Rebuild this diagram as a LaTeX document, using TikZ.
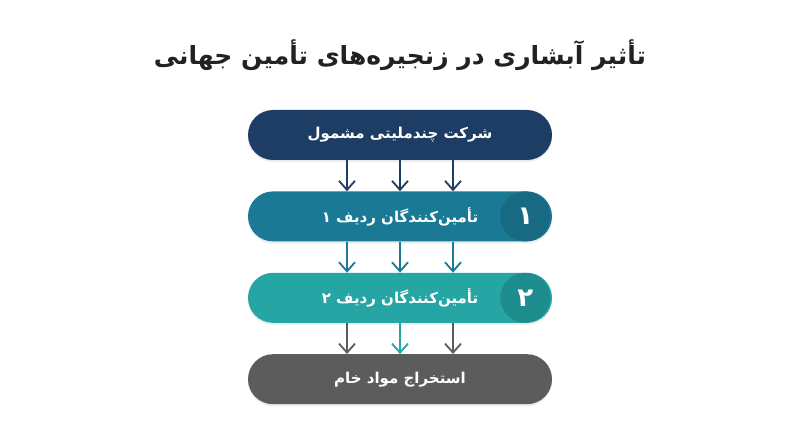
\documentclass[tikz,border=0pt]{standalone}
\usepackage{fontspec}
\usepackage{xcolor}
\newfontfamily\farsi[Script=Arabic]{DejaVu Sans}
\TeXXeTstate=1
\usepackage{tikz}
\usetikzlibrary{arrows.meta, positioning, shadows}

\definecolor{corpnavy}{HTML}{1E3D65}
\definecolor{tierone}{HTML}{1A7A96}
\definecolor{tieronedark}{HTML}{176A82}
\definecolor{tiertwo}{HTML}{25A5A4}
\definecolor{tiertwodark}{HTML}{1E8D8D}
\definecolor{rawgray}{HTML}{5C5C5C}
\definecolor{titleink}{HTML}{222222}

\begin{document}
\begin{tikzpicture}[
    x=1pt, y=1pt,
    node distance=31pt,
    % Estilos
    pill/.style={rectangle, rounded corners=25pt, minimum width=304pt, minimum height=50pt, inner sep=0pt, text=white, font=\farsi\bfseries\fontsize{15}{18}\selectfont, drop shadow={opacity=0.15, shadow xshift=0pt, shadow yshift=-2pt}},
    numdot/.style={circle, minimum size=50pt, inner sep=0pt, text=white, font=\farsi\bfseries\fontsize{26}{30}\selectfont},
    arrow/.style={-{Straight Barb[length=9pt, width=16pt]}, line width=1.8pt},
    heading/.style={font=\farsi\bfseries\fontsize{25}{30}\selectfont, text=titleink}
]
\useasboundingbox[fill=white] (0,0) rectangle (800,447);

% Titulo
\node[heading] (title) at (400,392) {\beginR تأثیر آبشاری در زنجیره‌های تأمین جهانی\endR};

% Niveles de la cadena
\node[pill, fill=corpnavy] (corp) at (400,312) {\beginR شرکت چندملیتی مشمول\endR};
\node[pill, fill=tierone, below=of corp] (tier1) {\beginR تأمین‌کنندگان ردیف ۱\endR};
\node[pill, fill=tiertwo, below=of tier1] (tier2) {\beginR تأمین‌کنندگان ردیف ۲\endR};
\node[pill, fill=rawgray, below=of tier2] (raw) {\beginR استخراج مواد خام\endR};

% Numeros
\node[numdot, fill=tieronedark] (num1) at ([xshift=-27pt]tier1.east) {\beginR ۱\endR};
\node[numdot, fill=tiertwodark] (num2) at ([xshift=-27pt]tier2.east) {\beginR ۲\endR};

% Flechas
\foreach \dx in {-53,0,53} {
  \draw[arrow, corpnavy] ([xshift=\dx pt]corp.south) -- ([xshift=\dx pt]tier1.north);
  \draw[arrow, tierone] ([xshift=\dx pt]tier1.south) -- ([xshift=\dx pt]tier2.north);
}
\foreach \dx/\col in {-53/rawgray, 0/tiertwo, 53/rawgray}
  \draw[arrow, \col] ([xshift=\dx pt]tier2.south) -- ([xshift=\dx pt]raw.north);

\end{tikzpicture}
\end{document}
